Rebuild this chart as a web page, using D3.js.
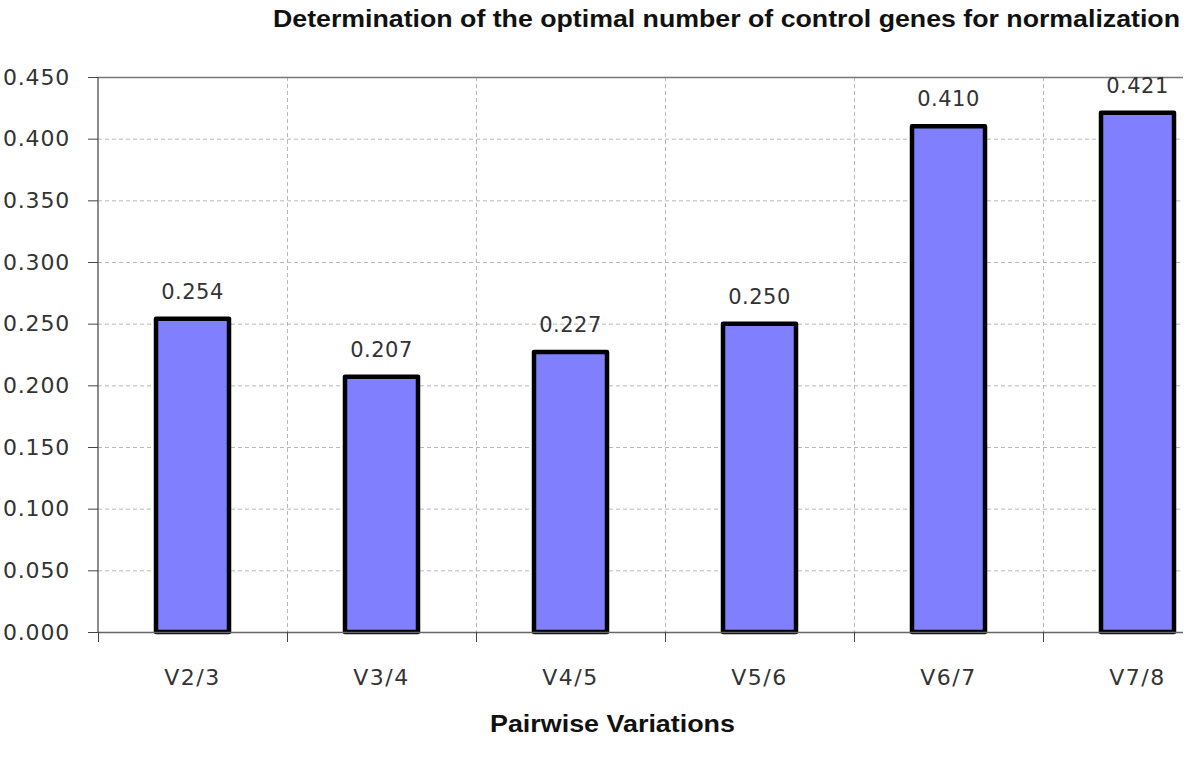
<!DOCTYPE html>
<html>
<head>
<meta charset="utf-8">
<script src="https://cdn.jsdelivr.net/npm/d3@7"></script>
<style>
  body { margin: 0; background: #fff; }
  svg { display: block; }
</style>
</head>
<body>
<svg id="chart" width="1200" height="757"></svg>
<script>
// data
const categories = ['V2/3', 'V3/4', 'V4/5', 'V5/6', 'V6/7', 'V7/8']
const values = [0.254, 0.207, 0.227, 0.250, 0.410, 0.421]
const yTicks = [0, 0.05, 0.1, 0.15, 0.2, 0.25, 0.3, 0.35, 0.4, 0.45]
const chartTitle = 'Determination of the optimal number of control genes for normalization'
const xTitle = 'Pairwise Variations'

const svg = d3.select('#chart')
const plotLeft = 98
const plotTop = 77
const plotBottom = 632
const bandW = 189
const visibleRight = 1183
const labelFont = 'DejaVu Sans, Verdana, sans-serif'

const xScale = d3.scaleBand()
  .domain(categories)
  .range([plotLeft, plotLeft + bandW * categories.length])
  .paddingInner(0).paddingOuter(0)

const yScale = d3.scaleLinear()
  .domain([0, 0.45])
  .range([plotBottom, plotTop])

const fmt = d3.format('.3f')

svg.append('defs').append('clipPath').attr('id', 'plotClip')
  .append('rect')
  .attr('x', 0).attr('y', 0)
  .attr('width', visibleRight).attr('height', 757)

const plot = svg.append('g').attr('clip-path', 'url(#plotClip)')

// horizontal grid
plot.append('g')
  .selectAll('line')
  .data(yTicks.slice(1, -1))
  .enter()
  .append('line')
  .attr('x1', plotLeft).attr('x2', plotLeft + bandW * categories.length)
  .attr('y1', function (d) { return yScale(d) + 0.5 })
  .attr('y2', function (d) { return yScale(d) + 0.5 })
  .attr('stroke', '#b8b8b8')
  .attr('stroke-dasharray', '4,3')

// vertical grid at band boundaries
plot.append('g')
  .selectAll('line')
  .data(categories.slice(1))
  .enter()
  .append('line')
  .attr('x1', function (d) { return xScale(d) + 0.5 })
  .attr('x2', function (d) { return xScale(d) + 0.5 })
  .attr('y1', plotTop).attr('y2', plotBottom)
  .attr('stroke', '#b8b8b8')
  .attr('stroke-dasharray', '4,3')

// top border
plot.append('line')
  .attr('x1', plotLeft).attr('x2', plotLeft + bandW * categories.length)
  .attr('y1', plotTop + 0.5).attr('y2', plotTop + 0.5)
  .attr('stroke', '#777').attr('stroke-width', 1.5)

// bars
const barW = 73
plot.append('g')
  .selectAll('rect')
  .data(values)
  .enter()
  .append('rect')
  .attr('x', function (d, i) { return xScale(categories[i]) + xScale.bandwidth() / 2 - barW / 2 })
  .attr('y', function (d) { return yScale(d) })
  .attr('width', barW)
  .attr('height', function (d) { return plotBottom - yScale(d) })
  .attr('fill', '#8080ff')
  .attr('stroke', '#000')
  .attr('stroke-width', 4.5)
  .attr('stroke-linejoin', 'round')

// value labels
plot.append('g')
  .selectAll('text')
  .data(values)
  .enter()
  .append('text')
  .attr('x', function (d, i) { return xScale(categories[i]) + xScale.bandwidth() / 2 })
  .attr('y', function (d) { return yScale(d) - 20 })
  .attr('text-anchor', 'middle')
  .attr('font-family', labelFont)
  .attr('font-size', 21)
  .attr('letter-spacing', 0.5)
  .attr('fill', '#333')
  .text(function (d) { return fmt(d) })

// y axis
const yAxis = d3.axisLeft(yScale)
  .tickValues(yTicks)
  .tickFormat(fmt)
  .tickSize(10)
  .tickPadding(18)
const gy = svg.append('g')
  .attr('transform', 'translate(' + plotLeft + ',0)')
  .call(yAxis)
gy.select('.domain').attr('stroke', '#666').attr('stroke-width', 1.5)
  .attr('d', 'M0,' + plotTop + 'V' + plotBottom)
gy.selectAll('.tick line').attr('stroke', '#444')
gy.selectAll('.tick text')
  .attr('font-family', labelFont)
  .attr('font-size', 22)
  .attr('letter-spacing', 0.8)
  .attr('fill', '#333')

// x axis
const xAxis = d3.axisBottom(xScale).tickSize(0).tickPadding(37)
const gx = plot.append('g')
  .attr('transform', 'translate(0,' + plotBottom + ')')
  .call(xAxis)
gx.select('.domain').attr('stroke', '#666').attr('stroke-width', 1.5)
gx.selectAll('.tick text')
  .attr('font-family', labelFont)
  .attr('font-size', 22)
  .attr('letter-spacing', 1.5)
  .attr('fill', '#333')

// x tick marks between categories
gx.append('g')
  .selectAll('line')
  .data(xScale.domain().concat(['end']))
  .enter()
  .append('line')
  .attr('x1', function (d, i) { return plotLeft + bandW * i + 0.5 })
  .attr('x2', function (d, i) { return plotLeft + bandW * i + 0.5 })
  .attr('y1', 0).attr('y2', 10)
  .attr('stroke', '#444')

// titles
svg.append('text')
  .attr('x', 490)
  .attr('y', 732)
  .attr('font-family', 'Liberation Sans, Arial, sans-serif')
  .attr('font-weight', 'bold')
  .attr('font-size', 23)
  .attr('fill', '#111')
  .attr('textLength', 245)
  .attr('lengthAdjust', 'spacingAndGlyphs')
  .text(xTitle)

svg.append('text')
  .attr('x', 273)
  .attr('y', 27)
  .attr('font-family', 'Liberation Sans, Arial, sans-serif')
  .attr('font-weight', 'bold')
  .attr('font-size', 24)
  .attr('fill', '#111')
  .attr('textLength', 907)
  .attr('lengthAdjust', 'spacingAndGlyphs')
  .text(chartTitle)
</script>
</body>
</html>
